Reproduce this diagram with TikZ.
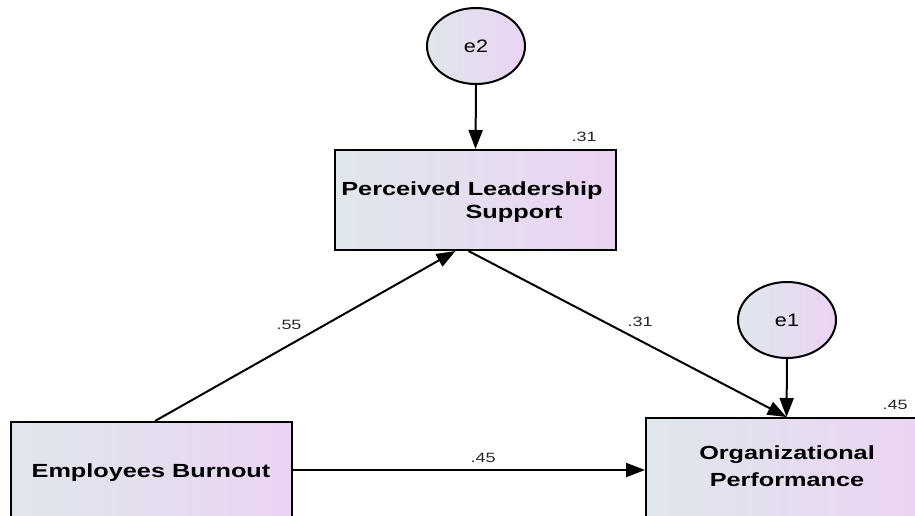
\documentclass[tikz,border=0pt]{standalone}
\usepackage{fontspec}
\setmainfont{Liberation Sans}
\usetikzlibrary{shapes.geometric,arrows.meta,calc}
\definecolor{fillL}{HTML}{DFE7EC}
\definecolor{fillR}{HTML}{EBD3F3}
\newcommand\hwide[2][1.33]{\scalebox{#1}[1]{#2}}
\tikzset{
  varbox/.style={draw=black, line width=2pt, left color=fillL, right color=fillR,
    minimum width=281pt, minimum height=100pt, inner sep=0pt},
  errnode/.style={draw=black, line width=2pt, ellipse, left color=fillL, right color=fillR,
    minimum width=98pt, minimum height=76pt, inner sep=0pt,
    font=\fontsize{18}{21}\selectfont},
  vartext/.style={font=\fontsize{19}{22}\selectfont\bfseries, inner sep=0pt},
  coef/.style={font=\fontsize{13.5}{16}\selectfont, text=black!85, inner sep=0pt},
  path/.style={draw=black, line width=2pt, -{Triangle[length=19pt,width=14pt]}}
}
\begin{document}
\begin{tikzpicture}[x=1pt,y=-1pt]
\useasboundingbox (0,0) rectangle (915,515);
\clip (0,0) rectangle (915,515);
% nodes
\node[varbox] (PLS) at (475.5,200) {};
\node[varbox] (EB) at (151,472) {};
\node[varbox] (OP) at (786.5,468) {};
\node[errnode] (e2) at (476,46) {\hwide[1.2]{e2}};
\node[errnode] (e1) at (787,320) {\hwide[1.2]{e1}};
% texts
\node[vartext] (t1) at (472,191) {\hwide{Perceived Leadership}};
\node[vartext] (t2) at (514,214) {\hwide{Support}};
\node[vartext] (t3) at (151,473) {\hwide{Employees Burnout}};
\node[vartext] (t4) at (787,455) {\hwide{Organizational}};
\node[vartext] (t5) at (787,480) {\hwide{Performance}};
% connectors
\draw[path] (e2.south) -- (PLS.north);
\draw[path] ([xshift=4pt]EB.north) -- ([xshift=-20pt]PLS.south);
\draw[path] ([xshift=-7pt]PLS.south) -- (OP.north);
\draw[path] (e1.south) -- (OP.north);
\draw[path] ([yshift=2pt]EB.east) -- ([yshift=2pt]EB.east -| OP.west);
% coefficients
\node[coef] (c1) at (289,325) {\hwide{.55}};
\node[coef] (c2) at (640,322) {\hwide{.31}};
\node[coef] (c3) at (483,458) {\hwide{.45}};
\node[coef] (c4) at (584,137) {\hwide{.31}};
\node[coef] (c5) at (895,405) {\hwide{.45}};
\end{tikzpicture}
\end{document}
